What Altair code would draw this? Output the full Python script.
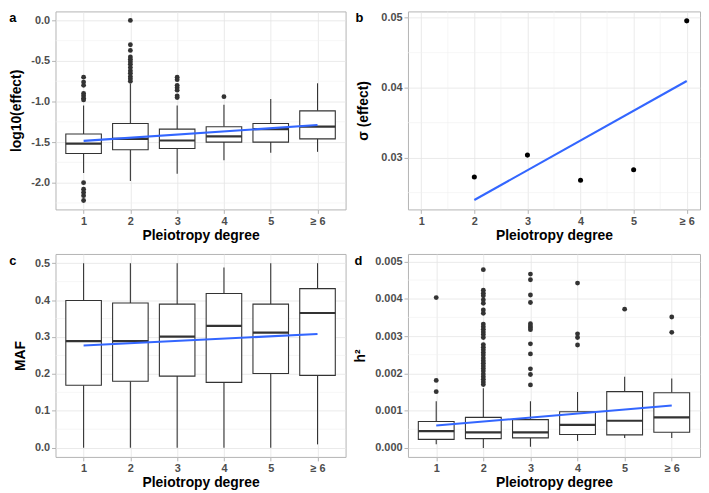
import altair as alt
import pandas as pd

# ---------------- data ----------------
cats = [1, 2, 3, 4, 5, 6]
cat_labels = ["1", "2", "3", "4", "5", "≥ 6"]

# panel a : log10(effect)
a_lw = [-1.88, -1.98, -1.89, -1.725, -1.63, -1.62]
a_q1 = [-1.64, -1.595, -1.58, -1.50, -1.50, -1.46]
a_med = [-1.52, -1.46, -1.48, -1.43, -1.34, -1.31]
a_q3 = [-1.40, -1.27, -1.34, -1.31, -1.27, -1.115]
a_uw = [-1.05, -0.78, -1.05, -1.04, -0.97, -0.775]
a_out = {
    1: [-0.70, -0.76, -0.80, -0.90, -0.93, -0.96, -0.98, -2.00, -2.08, -2.12, -2.16, -2.22],
    2: [0.0, -0.30, -0.37, -0.45, -0.48, -0.51, -0.54, -0.58, -0.62, -0.65, -0.69, -0.72, -0.75],
    3: [-0.70, -0.73, -0.80, -0.83, -0.86, -0.93, -0.95],
    4: [-0.94],
}
a_fit = [-1.485, -1.29]

# panel b : sigma(effect)
b_cats = [2, 3, 4, 5, 6]
b_sigma = [0.02723, 0.03036, 0.02677, 0.02827, 0.04955]
b_fit_x = [2, 6]
b_fit = [0.02395, 0.04095]

# panel c : MAF
c_lw = [0.0, 0.0, 0.0, 0.0, 0.0, 0.009]
c_q1 = [0.169, 0.180, 0.194, 0.177, 0.201, 0.196]
c_med = [0.289, 0.289, 0.301, 0.330, 0.312, 0.365]
c_q3 = [0.399, 0.392, 0.389, 0.418, 0.389, 0.431]
c_uw = [0.5, 0.5, 0.5, 0.488, 0.5, 0.5]
c_out = {}
c_fit = [0.277, 0.308]

# panel d : h2
d_lw = [0.0001, 0.0, 0.00003, 0.00019, 0.00027, 0.00027]
d_q1 = [0.00023, 0.00025, 0.00027, 0.00036, 0.00035, 0.00042]
d_med = [0.00045, 0.00042, 0.00042, 0.00062, 0.00073, 0.00082]
d_q3 = [0.00071, 0.00082, 0.00076, 0.00097, 0.00151, 0.00148]
d_uw = [0.00125, 0.00160, 0.00125, 0.00150, 0.00191, 0.00186]
d_out = {
    1: [0.00403, 0.00181, 0.00151],
    2: [0.00478, 0.00423, 0.00415, 0.00408, 0.00397, 0.00388, 0.00370, 0.00361,
        0.00332, 0.00325, 0.00318, 0.00311, 0.00304, 0.00296,
        0.00277, 0.00270, 0.00263, 0.00256, 0.00249, 0.00241, 0.00234, 0.00227,
        0.00220, 0.00213, 0.00206, 0.00198, 0.00191, 0.00184, 0.00177, 0.00170],
    3: [0.00466, 0.00451, 0.00410, 0.00390, 0.00333, 0.00327, 0.00322, 0.00317,
        0.00279, 0.00252, 0.00212, 0.00197, 0.00169],
    4: [0.00442, 0.00306, 0.00296, 0.00276],
    5: [0.00372],
    6: [0.00351, 0.00310],
}
d_fit = [0.00060, 0.00114]

# ---------------- styling ----------------
FONT = "Liberation Sans"
BOX_COL = "#333333"
LINE_COL = "#3366FF"
GRID_MAJOR = "#E4E4E4"
GRID_MINOR = "#F0F0F0"
LABEL_EXPR_X = "datum.value == 6 ? '≥ 6' : format(datum.value, 'd')"


def y_label_expr(fmt):
    return "replace(format(datum.value, '" + fmt + "'), '\u2212', '-')"


def make_axes(x_domain, ydomain, ymajor, fmt, ytitle, title_x):
    xscale = alt.Scale(domain=x_domain, nice=False, zero=False)
    yscale = alt.Scale(domain=ydomain, nice=False, zero=False)
    xaxis = alt.Axis(values=cats, labelExpr=LABEL_EXPR_X, title="Pleiotropy degree",
                     grid=True, titlePadding=2)
    yaxis = alt.Axis(values=ymajor, labelExpr=y_label_expr(fmt), title=ytitle,
                     grid=True, titleX=title_x)
    return xscale, yscale, xaxis, yaxis


def letter_layer(letter, lx, ly):
    return alt.Chart(pd.DataFrame({"letter": [letter]})).mark_text(
        font=FONT, fontWeight="bold", fontSize=13, color="black",
        align="center", baseline="middle"
    ).encode(text="letter:N", x=alt.value(lx), y=alt.value(ly))


def box_panel(lw, q1, med, q3, uw, outliers, fit_y, ydomain, ymajor, yminor, fmt,
              ytitle, title_x, letter, lx, ly, width, height):
    stats = pd.DataFrame({"cat": cats, "lw": lw, "q1": q1, "med": med, "q3": q3, "uw": uw})
    out = pd.DataFrame([(c, v) for c, vals in outliers.items() for v in vals],
                       columns=["cat", "val"])
    fit = pd.DataFrame({"cat": [cats[0], cats[-1]], "val": fit_y})
    xs, ys, xa, ya = make_axes([0.4, 6.6], ydomain, ymajor, fmt, ytitle, title_x)

    minor = alt.Chart(pd.DataFrame({"v": yminor})).mark_rule(
        color=GRID_MINOR, strokeWidth=0.6
    ).encode(y=alt.Y("v:Q", scale=ys, axis=ya))

    base = alt.Chart(stats).transform_calculate(
        xlo="datum.cat - 0.38", xhi="datum.cat + 0.38"
    )
    wlow = base.mark_rule(color=BOX_COL, strokeWidth=1.1).encode(
        x=alt.X("cat:Q", scale=xs, axis=xa),
        y=alt.Y("lw:Q", scale=ys, axis=ya), y2="q1:Q")
    whigh = base.mark_rule(color=BOX_COL, strokeWidth=1.1).encode(
        x=alt.X("cat:Q", scale=xs, axis=xa),
        y=alt.Y("q3:Q", scale=ys, axis=ya), y2="uw:Q")
    box = base.mark_rect(fill="white", stroke=BOX_COL, strokeWidth=1.1).encode(
        x=alt.X("xlo:Q", scale=xs, axis=xa), x2="xhi:Q",
        y=alt.Y("q1:Q", scale=ys, axis=ya), y2="q3:Q")
    median = base.mark_rule(color=BOX_COL, strokeWidth=2.2).encode(
        x=alt.X("xlo:Q", scale=xs, axis=xa), x2="xhi:Q",
        y=alt.Y("med:Q", scale=ys, axis=ya))
    layers = [minor, wlow, whigh, box, median]
    if len(out):
        pts = alt.Chart(out).mark_circle(size=24, color=BOX_COL, opacity=1).encode(
            x=alt.X("cat:Q", scale=xs, axis=xa),
            y=alt.Y("val:Q", scale=ys, axis=ya))
        layers.append(pts)
    line = alt.Chart(fit).mark_line(color=LINE_COL, strokeWidth=2.1).encode(
        x=alt.X("cat:Q", scale=xs, axis=xa),
        y=alt.Y("val:Q", scale=ys, axis=ya))
    layers.append(line)
    layers.append(letter_layer(letter, lx, ly))
    return alt.layer(*layers).properties(width=width, height=height)


def scatter_panel(width, height):
    xs, ys, xa, ya = make_axes([0.75, 6.25], [0.0226, 0.0509], [0.03, 0.04, 0.05], ".2f",
                               "σ (effect)", -38)
    minor_y = alt.Chart(pd.DataFrame({"v": [0.025, 0.035, 0.045]})).mark_rule(
        color=GRID_MINOR, strokeWidth=0.6
    ).encode(y=alt.Y("v:Q", scale=ys, axis=ya))
    minor_x = alt.Chart(pd.DataFrame({"v": [1.5, 2.5, 3.5, 4.5, 5.5]})).mark_rule(
        color=GRID_MINOR, strokeWidth=0.6
    ).encode(x=alt.X("v:Q", scale=xs, axis=xa))
    pts = alt.Chart(pd.DataFrame({"cat": b_cats, "val": b_sigma})).mark_circle(
        size=26, color="black", opacity=1
    ).encode(x=alt.X("cat:Q", scale=xs, axis=xa), y=alt.Y("val:Q", scale=ys, axis=ya))
    line = alt.Chart(pd.DataFrame({"cat": b_fit_x, "val": b_fit})).mark_line(
        color=LINE_COL, strokeWidth=2.1
    ).encode(x=alt.X("cat:Q", scale=xs, axis=xa), y=alt.Y("val:Q", scale=ys, axis=ya))
    return alt.layer(minor_y, minor_x, pts, line, letter_layer("b", -49, 7)).properties(
        width=width, height=height)


pa = box_panel(a_lw, a_q1, a_med, a_q3, a_uw, a_out, a_fit, [-2.33, 0.111],
               [-2.0, -1.5, -1.0, -0.5, 0.0], [-2.25, -1.75, -1.25, -0.75, -0.25], ".1f",
               "log10(effect)", -32, "a", -43, 7, 293, 200)
pc = box_panel(c_lw, c_q1, c_med, c_q3, c_uw, c_out, c_fit, [-0.025, 0.525],
               [0.0, 0.1, 0.2, 0.3, 0.4, 0.5], [0.05, 0.15, 0.25, 0.35, 0.45], ".1f",
               "MAF", -28, "c", -43, 7, 293, 205)
pd_ = box_panel(d_lw, d_q1, d_med, d_q3, d_uw, d_out, d_fit, [-0.00024, 0.0052],
                [0.0, 0.001, 0.002, 0.003, 0.004, 0.005],
                [0.0005, 0.0015, 0.0025, 0.0035, 0.0045], ".3f",
                "h²", -41, "d", -50, 7, 295, 205)
pb = scatter_panel(295, 200)

left = alt.vconcat(pa, pc, spacing=10)
right = alt.vconcat(pb, pd_, spacing=10)

chart = alt.hconcat(left, right, spacing=6).properties(
    padding=0
).configure_view(
    stroke="#B3B3B3", strokeWidth=1
).configure_axis(
    labelFont=FONT, labelFontWeight="bold", labelFontSize=11, labelColor="#4D4D4D",
    titleFont=FONT, titleFontWeight="bold", titleFontSize=14, titleColor="black",
    domain=False, tickColor="#B3B3B3", tickSize=4, tickWidth=1,
    gridColor=GRID_MAJOR, gridWidth=0.8, labelPadding=2
)

chart.save("out.html", embed_options={"renderer": "svg", "actions": False})
